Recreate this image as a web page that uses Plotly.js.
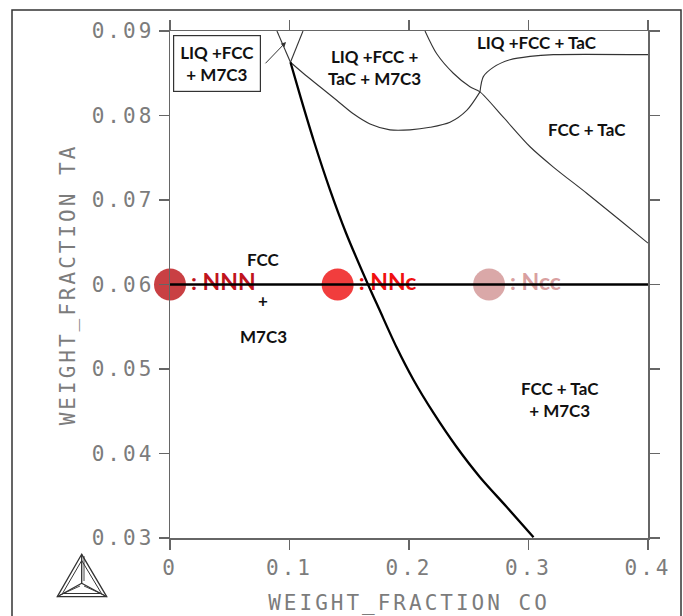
<!DOCTYPE html>
<html><head><meta charset="utf-8">
<script src="https://cdn.plot.ly/plotly-3.0.1.min.js"></script>
<style>
html,body{margin:0;padding:0;background:#fff;}
#chart{width:683px;height:616px;}
.xtick text, .ytick text, text.xtitle, text.ytitle { letter-spacing: 3px; }
</style></head><body><div id="chart"></div>
<script>
// ---- data ----
const xTickVals = [0, 0.1, 0.2, 0.3, 0.4];
const xTickText = ['0', '0.1', '0.2', '0.3', '0.4'];
const yTickVals = [0.03, 0.04, 0.05, 0.06, 0.07, 0.08, 0.09];
const yTickText = ['0.03', '0.04', '0.05', '0.06', '0.07', '0.08', '0.09'];

// thick M7C3 boundary
const thickX = [0.1008, 0.1092, 0.1201, 0.1339, 0.1473, 0.1657, 0.1753, 0.1895, 0.2038, 0.2205, 0.2397, 0.2594, 0.2816, 0.3042];
const thickY = [0.0863, 0.0822, 0.0771, 0.0712, 0.0661, 0.0600, 0.0570, 0.0526, 0.0487, 0.0448, 0.0408, 0.0372, 0.0337, 0.0301];
// small V near the top
const vLeftX = [0.0895, 0.1008];
const vLeftY = [0.0900, 0.0863];
const vRightX = [0.1113, 0.1008];
const vRightY = [0.0900, 0.0863];
// lower boundary of LIQ+FCC+TaC+M7C3
const curveAX = [0.1008, 0.1115, 0.1255, 0.1395, 0.1534, 0.1674, 0.1841, 0.2008, 0.2176, 0.2343, 0.2483, 0.2594];
const curveAY = [0.0863, 0.0850, 0.0834, 0.0818, 0.0802, 0.0790, 0.0783, 0.0783, 0.0786, 0.0792, 0.0806, 0.0828];
// lower boundary of LIQ+FCC+TaC
const curveBX = [0.2594, 0.2622, 0.2705, 0.2845, 0.3013, 0.3208, 0.4000];
const curveBY = [0.0828, 0.0846, 0.0857, 0.0866, 0.0870, 0.0872, 0.0872];
// TaC boundary
const curveCX = [0.2134, 0.2232, 0.2371, 0.2510, 0.2594, 0.2789, 0.3013, 0.3208, 0.3487, 0.3766, 0.4000];
const curveCY = [0.0900, 0.0873, 0.0850, 0.0834, 0.0828, 0.0798, 0.0763, 0.0739, 0.0708, 0.0676, 0.0649];
// section line at Ta = 0.06
const sectionX = [0, 0.4];
const sectionY = [0.06, 0.06];
// sample points
const sampleX = [0, 0.1403, 0.2670];
const sampleY = [0.06, 0.06, 0.06];
const sampleLabels = [': NNN', ': NNc', ': Ncc'];
const sampleColors = ['rgba(192,30,34,0.85)', 'rgba(240,40,40,0.9)', 'rgba(214,158,158,0.9)'];
const sampleTextColors = ['#c0141c', '#f01010', '#d9a0a0'];
// region labels
const regionText = ['LIQ +FCC +<br>TaC + M7C3', 'LIQ +FCC + TaC', 'FCC + TaC', 'FCC + TaC<br>+ M7C3', 'FCC', '+', 'M7C3'];
const regionX = [0.1715, 0.3069, 0.3487, 0.3264, 0.0781, 0.0781, 0.0781];
const regionY = [0.0857, 0.0886, 0.0783, 0.0464, 0.0630, 0.0581, 0.0538];
const boxText = 'LIQ +FCC<br>+ M7C3';
const boxX = 0.0393, boxY = 0.0861;
const arrowTip = [0.0971, 0.0887];
const arrowTail = [0.0787, 0.0860];

// ---- layout geometry ----
const W = 683, H = 616, mL = 170, mR = 35, mT = 31, mB = 78;
const pw = W - mL - mR, ph = H - mT - mB;
const px = p => (p - mL) / pw;          // pixel -> paper x
const py = p => (H - mB - p) / ph;      // pixel -> paper y

const tickFont = {family: 'DejaVu Sans Mono', size: 21, color: '#7c7c7c'};
const labFont = {family: 'Lato', size: 17, weight: 'bold', color: '#111'};

function lineTrace(x, y, w, c) {
  return {type: 'scatter', mode: 'lines', x: x, y: y, line: {color: c, width: w, shape: 'spline', smoothing: 0.8}, hoverinfo: 'skip', showlegend: false};
}

const traces = [
  {type: 'scatter', mode: 'markers+text', x: sampleX, y: sampleY, text: sampleLabels, textposition: 'middle right',
   marker: {size: 32, color: sampleColors, line: {width: 0}},
   textfont: {family: 'Lato', size: 23, weight: 'bold', color: sampleTextColors},
   cliponaxis: false, hoverinfo: 'skip', showlegend: false},
  lineTrace(curveAX, curveAY, 1.1, '#333'),
  lineTrace(curveBX, curveBY, 1.1, '#333'),
  lineTrace(curveCX, curveCY, 1.1, '#333'),
  lineTrace(vLeftX, vLeftY, 1.1, '#333'),
  lineTrace(vRightX, vRightY, 1.1, '#333'),
  lineTrace(thickX, thickY, 2.3, '#000'),
  lineTrace(sectionX, sectionY, 2.4, '#000')
];

const annotations = regionText.map((t, i) => ({
  x: regionX[i], y: regionY[i], xref: 'x', yref: 'y', text: t, showarrow: false, font: labFont, align: 'center'
}));
annotations.push({x: boxX, y: boxY, xref: 'x', yref: 'y', text: boxText, showarrow: false, font: labFont,
  bordercolor: '#333', borderwidth: 1.2, borderpad: 6, bgcolor: '#fff', align: 'center'});
annotations.push({x: arrowTip[0], y: arrowTip[1], ax: arrowTail[0], ay: arrowTail[1], xref: 'x', yref: 'y', axref: 'x', ayref: 'y',
  text: '', showarrow: true, arrowhead: 2, arrowsize: 1, arrowwidth: 1, arrowcolor: '#333'});

// Thermo-Calc style logo and outer frame (decoration, paper coords)
const apex = [81.7, 554.3], bl = [57.3, 596.7], br = [106.7, 596.7], ctr = [81.7, 583.3];
const apex2 = [81.7, 560.5], bl2 = [62.5, 593.5], br2 = [101.5, 593.5];
function P(pt) { return px(pt[0]) + ',' + py(pt[1]); }
const shapes = [
  {type: 'path', xref: 'paper', yref: 'paper', path: 'M' + P(apex) + ' L' + P(bl) + ' L' + P(br) + ' Z', line: {color: '#333', width: 1.3}},
  {type: 'path', xref: 'paper', yref: 'paper', path: 'M' + P(apex2) + ' L' + P(bl2) + ' L' + P(br2) + ' Z', line: {color: '#333', width: 1}},
  {type: 'path', xref: 'paper', yref: 'paper', path: 'M' + P(apex) + ' L' + P(ctr) + ' M' + P(bl) + ' L' + P(ctr) + ' M' + P(br) + ' L' + P(ctr), line: {color: '#333', width: 1.3}},
  {type: 'path', xref: 'paper', yref: 'paper', path: 'M' + P([84, 556]) + ' L' + P([84, 581]) + ' M' + P([60, 595]) + ' L' + P([80, 586]) + ' M' + P([104, 595]) + ' L' + P([84, 586]), line: {color: '#333', width: 0.9}},
  {type: 'path', xref: 'paper', yref: 'paper', path: 'M' + P([12, 620]) + ' L' + P([12, 10]) + ' L' + P([681, 10]) + ' L' + P([681, 620]), line: {color: '#333', width: 1.5}}
];

const axisCommon = {
  ticks: 'outside', ticklen: 10, tickwidth: 1.5, tickcolor: '#666',
  showline: true, linecolor: '#666', linewidth: 1.5, mirror: 'ticks',
  showgrid: false, zeroline: false, tickfont: tickFont, tickmode: 'array', fixedrange: true
};

const layout = {
  width: W, height: H, margin: {l: mL, r: mR, t: mT, b: mB},
  paper_bgcolor: '#fff', plot_bgcolor: '#fff', showlegend: false,
  xaxis: Object.assign({}, axisCommon, {range: [0, 0.4], tickvals: xTickVals, ticktext: xTickText,
    title: {text: 'WEIGHT_FRACTION CO', font: tickFont, standoff: 16}}),
  yaxis: Object.assign({}, axisCommon, {range: [0.03, 0.09], tickvals: yTickVals, ticktext: yTickText,
    title: {text: 'WEIGHT_FRACTION TA', font: tickFont, standoff: 10}}),
  annotations: annotations,
  shapes: shapes
};

Plotly.newPlot('chart', traces, layout, {displayModeBar: false, staticPlot: true});
</script></body></html>
